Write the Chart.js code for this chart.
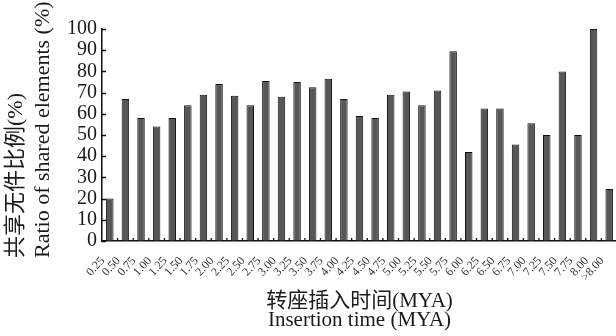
<!DOCTYPE html>
<html>
<head>
<meta charset="utf-8">
<script src="https://cdn.jsdelivr.net/npm/chart.js@4/dist/chart.umd.min.js"></script>
<style>
  html, body { margin: 0; padding: 0; background: #fff; overflow: hidden; }
  #wrap { position: relative; width: 620px; height: 336px; }
</style>
</head>
<body>
<div id="wrap"><canvas id="chart" width="620" height="336"></canvas></div>
<script>
// Insertion time bins (million years ago)
const insertionTimes = [
  '0.25', '0.50', '0.75', '1.00', '1.25', '1.50', '1.75', '2.00',
  '2.25', '2.50', '2.75', '3.00', '3.25', '3.50', '3.75', '4.00',
  '4.25', '4.50', '4.75', '5.00', '5.25', '5.50', '5.75', '6.00',
  '6.25', '6.50', '6.75', '7.00', '7.25', '7.50', '7.75', '8.00', '>8.00'
];

// Share of elements found in both genomes for each bin (%)
const sharedRatio = [
  20, 67, 58, 54, 58, 64, 69, 74,
  68.5, 64, 75.5, 68, 75, 72.5, 76.5, 67,
  59, 58, 69, 70.5, 64, 71, 89.5, 42,
  62.5, 62.5, 45.5, 55.5, 50, 80, 50, 100, 24.5
];

const yTitleLines = ['共享无件比例(%)', 'Ratio of shared elements (%)'];
const xTitleLines = ['转座插入时间(MYA)', 'Insertion time (MYA)'];

const SERIF = "'Liberation Serif', 'Noto Sans CJK SC', serif";

// Short inward tick marks on both axes, plus the rotated y-axis title
const axisDecor = {
  id: 'axisDecor',
  afterDraw(chart) {
    const { ctx, chartArea, scales } = chart;
    const x = scales.x, y = scales.y;
    ctx.save();
    ctx.strokeStyle = '#111';
    ctx.lineWidth = 1.3;
    ctx.beginPath();
    y.ticks.forEach(t => {
      const py = Math.round(y.getPixelForValue(t.value)) + 0.5;
      ctx.moveTo(chartArea.left, py);
      ctx.lineTo(chartArea.left + 4, py);
    });
    for (let i = 1; i < insertionTimes.length; i++) {
      const px = (x.getPixelForValue(i - 1) + x.getPixelForValue(i)) / 2;
      ctx.moveTo(px, chartArea.bottom);
      ctx.lineTo(px, chartArea.bottom - 3);
    }
    ctx.stroke();

    // y-axis title, two lines read bottom-to-top
    ctx.fillStyle = '#1a1a1a';
    ctx.font = '22px ' + SERIF;
    ctx.textAlign = 'left';
    ctx.textBaseline = 'middle';
    const startY = chartArea.bottom + 17;
    const lineX = [16, 43];
    yTitleLines.forEach((line, i) => {
      ctx.save();
      ctx.translate(lineX[i], startY);
      ctx.rotate(-Math.PI / 2);
      ctx.fillText(line, 0, 0);
      ctx.restore();
    });
    ctx.restore();
  }
};

new Chart(document.getElementById('chart'), {
  type: 'bar',
  data: {
    labels: insertionTimes,
    datasets: [{
      data: sharedRatio,
      backgroundColor: '#575757',
      borderColor: '#111',
      borderWidth: 1,
      categoryPercentage: 1,
      barPercentage: 0.48
    }]
  },
  options: {
    responsive: false,
    animation: false,
    devicePixelRatio: 1,
    layout: { padding: { top: 29, right: 3, left: 0, bottom: 0 } },
    plugins: { legend: { display: false }, tooltip: { enabled: false } },
    scales: {
      x: {
        offset: true,
        grid: { display: true, drawOnChartArea: false, drawTicks: false },
        border: { display: true, color: '#111', width: 1.5 },
        ticks: {
          autoSkip: false,
          minRotation: 48,
          maxRotation: 48,
          padding: 13,
          labelOffset: -7,
          color: '#333',
          font: { family: SERIF, size: 12 }
        },
        title: {
          display: true,
          text: xTitleLines,
          color: '#1a1a1a',
          font: { family: SERIF, size: 21, lineHeight: 0.9 },
          padding: { top: 0, bottom: 6 }
        },
        afterFit(scale) {
          scale.height = 95;
          scale.paddingLeft = 0;
          scale.paddingRight = 0;
        }
      },
      y: {
        min: 0,
        max: 100,
        grid: { display: true, drawOnChartArea: false, drawTicks: false },
        border: { display: true, color: '#111', width: 1.5 },
        ticks: {
          stepSize: 10,
          autoSkip: false,
          padding: 5,
          color: '#1a1a1a',
          font: { family: SERIF, size: 20 }
        },
        afterFit(scale) { scale.width = 102; }
      }
    }
  },
  plugins: [axisDecor]
});
</script>
</body>
</html>
